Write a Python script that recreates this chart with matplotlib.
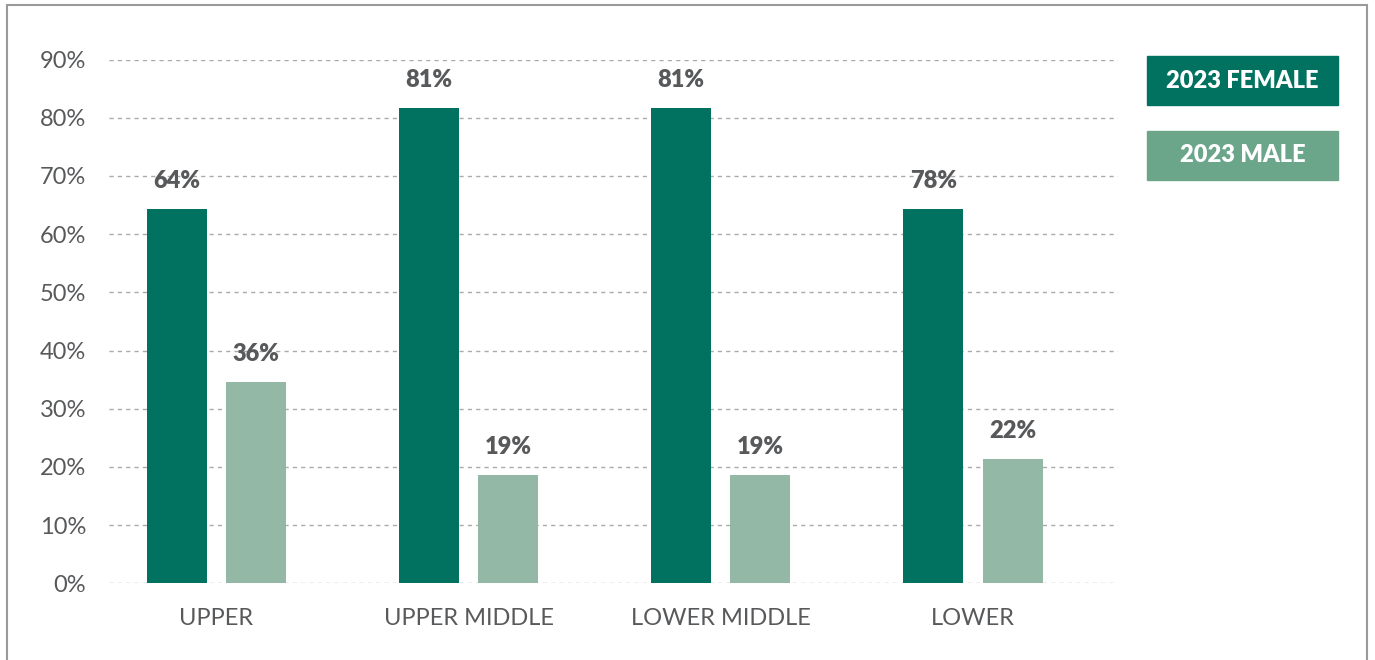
import matplotlib

matplotlib.use("Agg")
import matplotlib.pyplot as plt
from matplotlib.patches import Rectangle

categories = ["UPPER", "UPPER MIDDLE", "LOWER MIDDLE", "LOWER"]
female_values = [64.3, 81.7, 81.7, 64.3]
male_values = [34.6, 18.6, 18.6, 21.4]
female_labels = ["64%", "81%", "81%", "78%"]
male_labels = ["36%", "19%", "19%", "22%"]
y_ticks = [0, 10, 20, 30, 40, 50, 60, 70, 80, 90]

FEMALE_COLOR = "#00725F"
MALE_COLOR = "#93B9A6"
MALE_LEGEND_COLOR = "#6BA58A"
TEXT_COLOR = "#58595B"

plt.rcParams["font.family"] = ["Lato", "DejaVu Sans"]

W, H = 1375, 660
fig = plt.figure(figsize=(W / 100, H / 100), dpi=100)
ax = fig.add_axes([109 / W, 1 - 583.3 / H, (1118 - 109) / W, (583.3 - 59.5) / H])

x = list(range(len(categories)))
width = 0.238
offset = 0.157
bars_f = ax.bar([i - offset for i in x], female_values, width, color=FEMALE_COLOR, zorder=3)
bars_m = ax.bar([i + offset for i in x], male_values, width, color=MALE_COLOR, zorder=3)

for bars, labels in ((bars_f, female_labels), (bars_m, male_labels)):
    for bar, label in zip(bars, labels):
        ax.annotate(label, (bar.get_x() + bar.get_width() / 2, bar.get_height()),
                    xytext=(0, 20), textcoords="offset points", ha="center", va="center",
                    fontsize=17, fontweight="heavy", color=TEXT_COLOR)

ax.set_xlim(-0.426, 3.575)
ax.set_ylim(0, 90)
ax.set_yticks(y_ticks)
ax.set_yticklabels([f"{t}%" for t in y_ticks])
ax.set_xticks(x)
ax.set_xticklabels(categories)
ax.tick_params(axis="y", length=0, pad=16.5, labelsize=17, labelcolor=TEXT_COLOR)
ax.tick_params(axis="x", length=0, pad=18, labelsize=17, labelcolor=TEXT_COLOR)
ax.yaxis.grid(True, color="#AAAAAA", linestyle=(0, (3, 3)), linewidth=1, zorder=0)
ax.set_axisbelow(True)
for spine in ax.spines.values():
    spine.set_visible(False)

# outer frame
fig.patches.append(Rectangle((6.5 / W, -0.1), (1367 - 6.5) / W, 1.1 - 5 / H,
                             transform=fig.transFigure, fill=False,
                             edgecolor="#9A9A9A", linewidth=1.5))

# legend boxes
for (y0, y1), text, color in (((56, 105), "2023 FEMALE", FEMALE_COLOR),
                              ((131, 180), "2023 MALE", MALE_LEGEND_COLOR)):
    fig.patches.append(Rectangle((1147 / W, 1 - y1 / H), (1338 - 1147) / W, (y1 - y0) / H,
                                 transform=fig.transFigure, color=color))
    fig.text((1147 + 1338) / 2 / W, 1 - (y0 + y1) / 2 / H, text, ha="center", va="center",
             fontsize=17, fontweight="heavy", color="white")

fig.savefig("out.png", dpi=100)
